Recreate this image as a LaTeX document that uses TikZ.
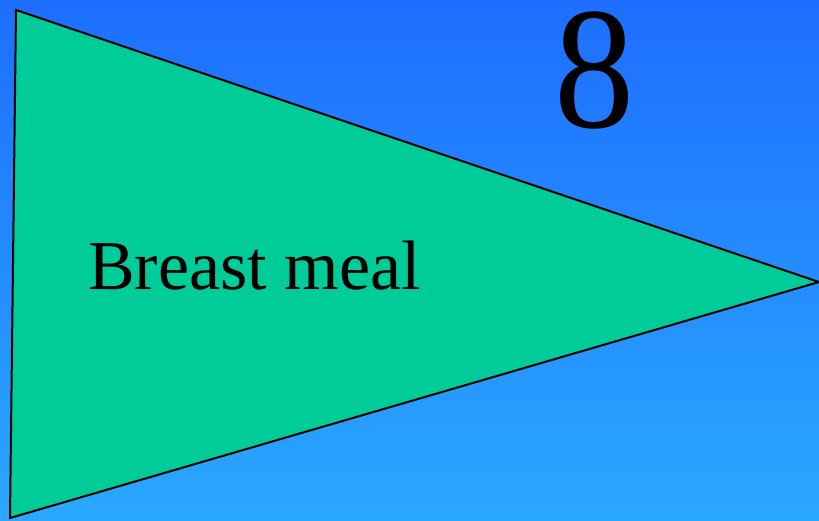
\documentclass[tikz,border=0pt]{standalone}
\usepackage{fontspec}
\setmainfont{Liberation Serif}
\definecolor{bgtop}{HTML}{1E6EFF}
\definecolor{bgbot}{HTML}{2AA8FF}
\definecolor{flag}{HTML}{00CC99}
\begin{document}
\begin{tikzpicture}[x=1pt,y=1pt,
  flagshape/.style={fill=flag,draw=black,line width=2pt,line join=miter},
  bigtext/.style={inner sep=0pt,anchor=base west}]
\useasboundingbox (0,0) rectangle (819,520);
\shade[top color=bgtop,bottom color=bgbot] (0,0) rectangle (819,520);
\coordinate (a) at (16,510);
\coordinate (b) at (819,238);
\coordinate (c) at (10,2);
\draw[flagshape] (a) -- (b) -- (c) -- cycle;
\node[bigtext,font=\fontsize{70}{80}\selectfont] (label) at (88,230) {Breast meal};
\node[bigtext,font=\fontsize{174}{190}\selectfont,xscale=0.92,text height=121pt,text depth=0pt] (num) at (554,392) {8};
\end{tikzpicture}
\end{document}
